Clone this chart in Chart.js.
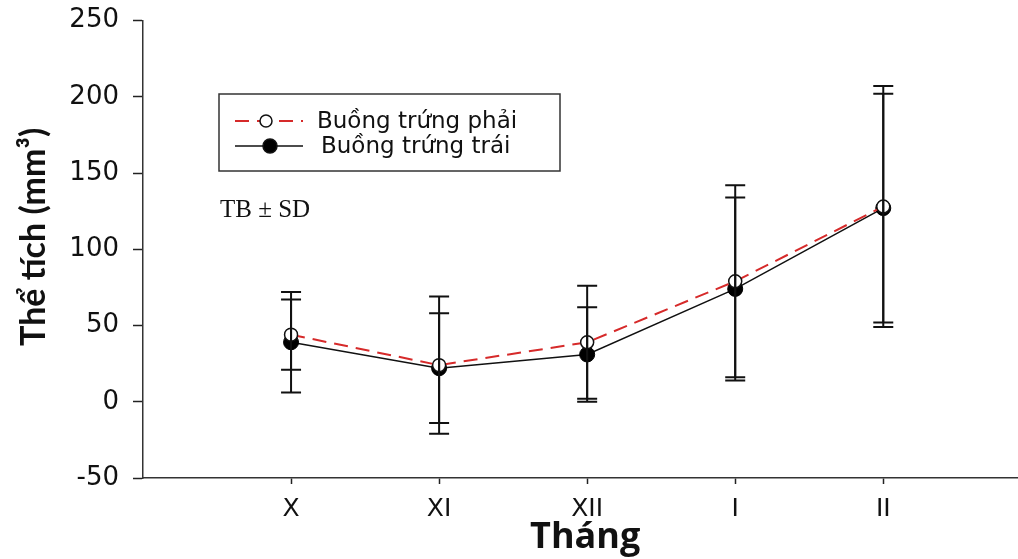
<!DOCTYPE html>
<html>
<head>
<meta charset="utf-8">
<script src="https://cdn.jsdelivr.net/npm/chart.js@4"></script>
<style>
  html, body { margin: 0; padding: 0; background: #fff; }
  #wrap { width: 1018px; height: 559px; }
</style>
</head>
<body>
<div id="wrap"><canvas id="volChart" width="1018" height="559"></canvas></div>
<script>
// Tháng
const months = ['X', 'XI', 'XII', 'I', 'II'];

// Buồng trứng phải (TB, SD)
const rightMean = [44, 24, 39, 79, 128];
const rightSD = [23, 45, 37, 63, 79];

// Buồng trứng trái (TB, SD)
const leftMean = [39, 22, 31, 74, 127];
const leftSD = [33, 36, 31, 60, 75];

const yTicks = [-50, 0, 50, 100, 150, 200, 250];

const toPoints = arr => arr.map((v, i) => ({ x: i, y: v }));

// Vẽ thanh sai số
const errorBars = {
    id: 'errorBars',
    afterDatasetsDraw(chart) {
        const { ctx, scales: { x, y } } = chart;
        ctx.save();
        ctx.strokeStyle = '#111';
        ctx.lineWidth = 2;
        chart.data.datasets.forEach(ds => {
            ds.data.forEach((p, i) => {
                const sd = ds.sd[i];
                const px = x.getPixelForValue(p.x);
                const top = y.getPixelForValue(p.y + sd);
                const bot = y.getPixelForValue(p.y - sd);
                ctx.beginPath();
                ctx.moveTo(px, top); ctx.lineTo(px, bot);
                ctx.moveTo(px - 10, top); ctx.lineTo(px + 10, top);
                ctx.moveTo(px - 10, bot); ctx.lineTo(px + 10, bot);
                ctx.stroke();
            });
        });
        ctx.restore();
    }
};

// Chú thích và ghi chú TB ± SD
const boxLegend = {
    id: 'boxLegend',
    afterDraw(chart) {
        const { ctx } = chart;
        ctx.save();
        ctx.strokeStyle = '#333';
        ctx.lineWidth = 1.5;
        ctx.strokeRect(219, 94, 341, 77);

        const rows = [121, 146];
        chart.data.datasets.forEach((ds, i) => {
            const yy = rows[i];
            ctx.beginPath();
            ctx.strokeStyle = ds.borderColor;
            ctx.lineWidth = ds.borderWidth;
            ctx.setLineDash(ds.borderDash || []);
            ctx.moveTo(235, yy); ctx.lineTo(303, yy);
            ctx.stroke();
            ctx.setLineDash([]);
            ctx.beginPath();
            ctx.arc(i === 0 ? 266 : 270, yy, i === 0 ? 6 : 7, 0, Math.PI * 2);
            ctx.fillStyle = ds.pointBackgroundColor;
            ctx.fill();
            ctx.strokeStyle = '#111';
            ctx.lineWidth = 1.5;
            ctx.stroke();

            ctx.fillStyle = '#111';
            ctx.font = '23px "DejaVu Sans", sans-serif';
            ctx.textBaseline = 'middle';
            ctx.fillText(ds.label, i === 0 ? 317 : 321, yy + 1);
        });

        ctx.font = '25px "Liberation Serif", "Times New Roman", serif';
        ctx.fillStyle = '#111';
        ctx.textBaseline = 'middle';
        ctx.fillText('TB \u00b1 SD', 220, 210);
        ctx.restore();
    }
};

const ctx = document.getElementById('volChart').getContext('2d');

const volChart = new Chart(ctx, {
    type: 'line',
    data: {
        datasets: [
            {
                label: 'Buồng trứng phải',
                data: toPoints(rightMean),
                sd: rightSD,
                borderColor: '#d62a2a',
                borderWidth: 2,
                borderDash: [14, 8],
                pointRadius: 6.5,
                pointBackgroundColor: '#fff',
                pointBorderColor: '#111',
                pointBorderWidth: 1.5,
                tension: 0
            },
            {
                label: 'Buồng trứng trái',
                data: toPoints(leftMean),
                sd: leftSD,
                borderColor: '#111',
                borderWidth: 1.5,
                pointRadius: 7.5,
                pointBackgroundColor: '#000',
                pointBorderColor: '#000',
                pointBorderWidth: 1,
                tension: 0
            }
        ]
    },
    options: {
        responsive: false,
        animation: false,
        layout: { autoPadding: false, padding: { top: 11, right: 0, left: 0, bottom: 0 } },
        plugins: {
            legend: { display: false },
            tooltip: { enabled: false }
        },
        scales: {
            x: {
                type: 'linear',
                min: -1,
                max: 4.91,
                afterBuildTicks: s => { s.ticks = months.map((m, i) => ({ value: i })); },
                afterFit: s => { s.height = 81; },
                ticks: {
                    color: '#111',
                    padding: 10,
                    font: { family: '"DejaVu Sans", sans-serif', size: 25 },
                    callback: (v) => months[v]
                },
                grid: { drawOnChartArea: false, drawTicks: true, tickLength: 6, tickColor: '#222', tickWidth: 1.5 },
                border: { display: true, color: '#333', width: 1.5 },
                title: {
                    display: true,
                    text: ' Tháng',
                    color: '#111',
                    padding: { top: 9, bottom: 0 },
                    font: { family: '"Open Sans", sans-serif', size: 36, weight: 'bold' }
                }
            },
            y: {
                min: -50,
                max: 250,
                afterBuildTicks: s => { s.ticks = yTicks.map(v => ({ value: v })); },
                afterFit: s => { s.width = 143; },
                ticks: {
                    color: '#111',
                    padding: 14,
                    font: { family: '"DejaVu Sans", sans-serif', size: 26, lineHeight: 0.5 }
                },
                grid: { drawOnChartArea: false, drawTicks: true, tickLength: 10, tickColor: '#222', tickWidth: 1.5 },
                border: { display: true, color: '#333', width: 1.5 },
                title: {
                    display: true,
                    text: '   Thể tích (mm³)',
                    color: '#111',
                    padding: { top: 14, bottom: 0 },
                    font: { family: 'Lato, "Noto Sans", sans-serif', size: 34, weight: 'bold' }
                }
            }
        }
    },
    plugins: [errorBars, boxLegend]
});
</script>
</body>
</html>
